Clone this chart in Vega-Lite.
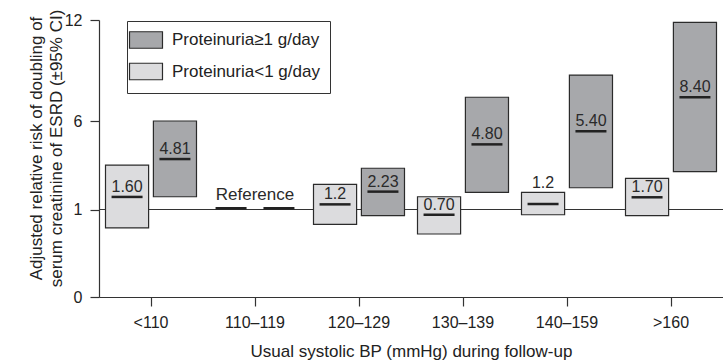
{
  "$schema": "https://vega.github.io/schema/vega-lite/v6.json",
  "width": 624,
  "height": 277,
  "autosize": "none",
  "padding": {"left": 99, "top": 20, "right": 0, "bottom": 64},
  "background": "white",
  "config": {
    "view": {"stroke": null},
    "font": "Liberation Sans",
    "axis": {
      "labelFont": "Liberation Sans",
      "labelFontSize": 16,
      "labelColor": "#222222",
      "titleFont": "Liberation Sans",
      "titleFontSize": 17,
      "titleFontWeight": "normal",
      "titleColor": "#222222",
      "domainColor": "#333333",
      "domainWidth": 1.2,
      "tickColor": "#333333",
      "tickWidth": 1.2,
      "tickSize": 9,
      "grid": false
    }
  },
  "datasets": {
    "risk": [
      {"cat": "<110", "group": "Proteinuria<1 g/day", "lo": 0.79, "hi": 3.51, "est": 1.71, "label": "1.60"},
      {"cat": "<110", "group": "Proteinuria≥1 g/day", "lo": 1.72, "hi": 6.0, "est": 3.85, "label": "4.81"},
      {"cat": "110–119", "group": "Proteinuria<1 g/day", "lo": null, "hi": null, "est": 1.07, "label": null},
      {"cat": "110–119", "group": "Proteinuria≥1 g/day", "lo": null, "hi": null, "est": 1.07, "label": null},
      {"cat": "120–129", "group": "Proteinuria<1 g/day", "lo": 0.83, "hi": 2.42, "est": 1.29, "label": "1.2"},
      {"cat": "120–129", "group": "Proteinuria≥1 g/day", "lo": 0.93, "hi": 3.33, "est": 2.01, "label": "2.23"},
      {"cat": "130–139", "group": "Proteinuria<1 g/day", "lo": 0.72, "hi": 1.72, "est": 0.94, "label": "0.70"},
      {"cat": "130–139", "group": "Proteinuria≥1 g/day", "lo": 1.97, "hi": 7.41, "est": 4.68, "label": "4.80"},
      {"cat": "140–159", "group": "Proteinuria<1 g/day", "lo": 0.94, "hi": 1.97, "est": 1.31, "label": "1.2"},
      {"cat": "140–159", "group": "Proteinuria≥1 g/day", "lo": 2.23, "hi": 8.73, "est": 5.42, "label": "5.40"},
      {"cat": ">160", "group": "Proteinuria<1 g/day", "lo": 0.93, "hi": 2.76, "est": 1.69, "label": "1.70"},
      {"cat": ">160", "group": "Proteinuria≥1 g/day", "lo": 3.14, "hi": 11.86, "est": 7.41, "label": "8.40"}
    ],
    "ref": [
      {"cat": "110–119", "text": "Reference", "value": 1}
    ]
  },
  "data": {"name": "risk"},
  "encoding": {
    "x": {
      "field": "cat",
      "type": "nominal",
      "sort": null,
      "scale": {
        "domain": ["<110", "110–119", "120–129", "130–139", "140–159", ">160"],
        "paddingInner": 0.125,
        "paddingOuter": 0.0625
      },
      "axis": {
        "labelAngle": 0,
        "labelPadding": 8,
        "title": "Usual systolic BP (mmHg) during follow-up",
        "titleY": 59,
        "titleBaseline": "alphabetic"
      }
    }
  },
  "layer": [
    {
      "mark": {"type": "rule", "color": "#333333", "strokeWidth": 1.2},
      "encoding": {
        "x": {"value": 0},
        "x2": {"value": 624},
        "y": {
          "datum": 1,
          "type": "quantitative",
          "scale": {"domain": [0, 1, 6, 12], "range": [277, 189.5, 101, 0], "nice": false, "zero": false},
          "axis": {
            "values": [0, 1, 6, 12],
            "labelPadding": 8,
            "title": ["Adjusted relative risk of doubling of", "serum creatinine of ESRD (±95% CI)"],
            "titleLineHeight": 20,
            "titleAngle": 270,
            "titleX": -62.5,
            "titleY": 128,
            "titleAlign": "center",
            "titleBaseline": "middle"
          }
        }
      }
    },
    {
      "transform": [{"filter": "datum.lo != null"}],
      "mark": {"type": "bar", "stroke": "#2b2b2b", "strokeWidth": 1.2, "opacity": 1},
      "encoding": {
        "xOffset": {
          "field": "group",
          "type": "nominal",
          "scale": {"domain": ["Proteinuria<1 g/day", "Proteinuria≥1 g/day"], "paddingInner": 0.1, "paddingOuter": 0}
        },
        "y": {"field": "lo", "type": "quantitative"},
        "y2": {"field": "hi"},
        "color": {
          "field": "group",
          "type": "nominal",
          "scale": {"domain": ["Proteinuria≥1 g/day", "Proteinuria<1 g/day"], "range": ["#a7a8ab", "#dcdcde"]},
          "legend": {
            "orient": "none",
            "legendX": 28,
            "legendY": 1,
            "title": null,
            "symbolType": "M-2,-1H2V1H-2Z",
            "symbolSize": 272,
            "symbolStrokeColor": "#2b2b2b",
            "symbolStrokeWidth": 1.2,
            "symbolOpacity": 1,
            "labelFont": "Liberation Sans",
            "labelFontSize": 17,
            "labelColor": "#222222",
            "labelOffset": 17,
            "labelLimit": 300,
            "rowPadding": 9.5,
            "padding": 10,
            "strokeColor": "#333333",
            "fillColor": "white"
          }
        }
      }
    },
    {
      "mark": {"type": "tick", "size": 31, "thickness": 2.5, "color": "#222222", "opacity": 1},
      "encoding": {
        "xOffset": {"field": "group", "type": "nominal"},
        "y": {"field": "est", "type": "quantitative"}
      }
    },
    {
      "transform": [{"filter": "datum.label != null && datum.hi - datum.est >= 0.7"}],
      "mark": {"type": "text", "baseline": "alphabetic", "dy": -5, "fontSize": 16, "color": "#2a2a2a"},
      "encoding": {
        "xOffset": {"field": "group", "type": "nominal"},
        "y": {"field": "est", "type": "quantitative"},
        "text": {"field": "label"}
      }
    },
    {
      "transform": [{"filter": "datum.label != null && datum.hi - datum.est < 0.7"}],
      "mark": {"type": "text", "baseline": "alphabetic", "dy": -4, "fontSize": 16, "color": "#2a2a2a"},
      "encoding": {
        "xOffset": {"field": "group", "type": "nominal"},
        "y": {"field": "hi", "type": "quantitative"},
        "text": {"field": "label"}
      }
    },
    {
      "data": {"name": "ref"},
      "mark": {"type": "text", "baseline": "alphabetic", "dy": -9.5, "fontSize": 17, "color": "#2a2a2a"},
      "encoding": {
        "y": {"field": "value", "type": "quantitative"},
        "text": {"field": "text"}
      }
    }
  ]
}
